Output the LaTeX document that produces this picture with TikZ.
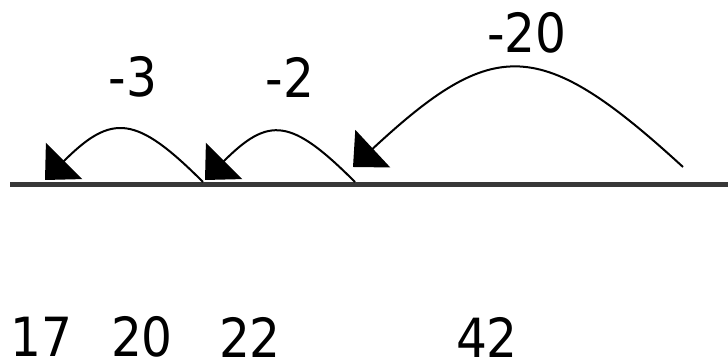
\documentclass[tikz,border=0pt]{standalone}
\usepackage{fontspec}
\setmainfont{DejaVu Sans Condensed}
\usetikzlibrary{arrows.meta}

\begin{document}
\begin{tikzpicture}[x=0.5pt, y=-0.5pt, font=\fontsize{27}{32}\selectfont,
  lbl/.style={inner sep=0pt},
  numline/.style={line width=2.5pt, draw=black!78},
  jump/.style={line width=1pt, -{Triangle[length=13.5pt, width=25.5pt]}}]
\useasboundingbox (0,0) rectangle (728,363);
% the line
\coordinate (lineL) at (10,185);
\coordinate (lineR) at (728,185);
\draw[numline] (lineL) -- (lineR);
% jump ends
\coordinate (from42) at (683,167);
\coordinate (to22) at (353,167);
\coordinate (from22) at (355,182);
\coordinate (to20) at (205,180);
\coordinate (from20) at (203,182);
\coordinate (to17) at (45,180);
\draw[jump] (from42) .. controls +(-143,-131) and +(141,-131) .. (to22);
\draw[jump] (from22) .. controls +(-64,-64) and +(64,-64) .. (to20);
\draw[jump] (from20) .. controls +(-67,-67) and +(67,-67) .. (to17);
% jump sizes
\node[lbl] (jump20) at (527,33) {-20};
\node[lbl] (jump2) at (290,77) {-2};
\node[lbl] (jump3) at (133,77) {-3};
% numbers
\node[lbl, anchor=west] (n17) at (10,337) {17};
\node[lbl] (n20) at (142,337) {20};
\node[lbl] (n22) at (250,337) {22};
\node[lbl] (n42) at (487,337) {42};
\end{tikzpicture}
\end{document}
